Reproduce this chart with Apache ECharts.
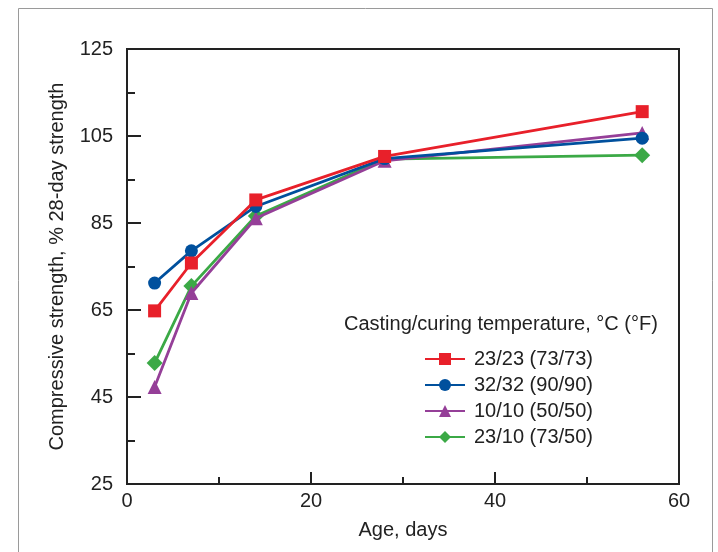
<!DOCTYPE html>
<html>
<head>
<meta charset="utf-8">
<script src="https://cdn.jsdelivr.net/npm/echarts@6/dist/echarts.min.js"></script>
<style>
html, body { margin: 0; padding: 0; background: #fff; }
#chart { width: 718px; height: 552px; }
</style>
</head>
<body>
<div id="chart"></div>
<script>
var ages = [3, 7, 14, 28, 56];
var names = ['23/23 (73/73)', '32/32 (90/90)', '10/10 (50/50)', '23/10 (73/50)'];
var red = [64.8, 75.8, 90.3, 100.3, 110.6];
var blue = [71.2, 78.6, 88.8, 99.8, 104.5];
var purple = [47.3, 68.9, 86.1, 99.3, 105.7];
var green = [52.8, 70.5, 86.6, 99.7, 100.6];
var colors = ['#e8202a', '#00509d', '#953f98', '#3ba946'];
var symbols = ['rect', 'circle', 'triangle', 'diamond'];
var sizes = [13, 13, 14, 16];

var chart = echarts.init(document.getElementById('chart'), null, {renderer: 'canvas'});
var font = 'Liberation Sans';

function pairs(vals) {
    return ages.map(function (a, i) { return [a, vals[i]]; });
}

var series = [red, blue, purple, green].map(function (vals, i) {
    return {
        name: names[i],
        type: 'line',
        data: pairs(vals),
        symbol: symbols[i],
        symbolSize: sizes[i],
        lineStyle: {color: colors[i], width: 2.8},
        itemStyle: {color: colors[i]},
        z: 10 - i
    };
});

chart.setOption({
    animation: false,
    textStyle: {fontFamily: font},
    graphic: [
        {type: 'rect', shape: {x: 18.5, y: 8.5, width: 694, height: 560},
         style: {fill: 'none', stroke: '#9a9a9a', lineWidth: 1}, silent: true},
        {type: 'text', left: 344, top: 314,
         style: {text: 'Casting/curing temperature, °C (°F)', font: '20px "Liberation Sans"', fill: '#222'}}
    ],
    grid: {left: 127, right: 39, top: 49, bottom: 68, show: true,
           borderColor: '#222', borderWidth: 2, backgroundColor: 'transparent'},
    legend: {
        orient: 'vertical', left: 419, top: 344, itemGap: 6,
        itemWidth: 40, itemHeight: 15,
        textStyle: {fontSize: 20, color: '#222', fontFamily: font, padding: [0, 0, 0, 4]},
        data: names
    },
    xAxis: {
        type: 'value', min: 0, max: 60, interval: 20,
        name: 'Age, days', nameLocation: 'middle', nameGap: 36,
        nameTextStyle: {fontSize: 20, color: '#222', fontFamily: font},
        axisLine: {lineStyle: {color: '#222', width: 2}},
        axisTick: {inside: true, length: 12, lineStyle: {color: '#222', width: 2}},
        minorTick: {show: true, splitNumber: 2, length: 7, lineStyle: {color: '#222', width: 2}},
        splitLine: {show: false},
        axisLabel: {fontSize: 20, color: '#222', margin: 7}
    },
    yAxis: {
        type: 'value', min: 25, max: 125, interval: 20,
        name: 'Compressive strength, % 28-day strength', nameLocation: 'middle', nameGap: 60,
        nameTextStyle: {fontSize: 20, color: '#222', fontFamily: font},
        axisLine: {lineStyle: {color: '#222', width: 2}},
        axisTick: {inside: true, length: 14, lineStyle: {color: '#222', width: 2}},
        minorTick: {show: true, splitNumber: 2, length: 8, lineStyle: {color: '#222', width: 2}},
        splitLine: {show: false},
        axisLabel: {fontSize: 20, color: '#222', margin: 14}
    },
    series: series
});
</script>
</body>
</html>
